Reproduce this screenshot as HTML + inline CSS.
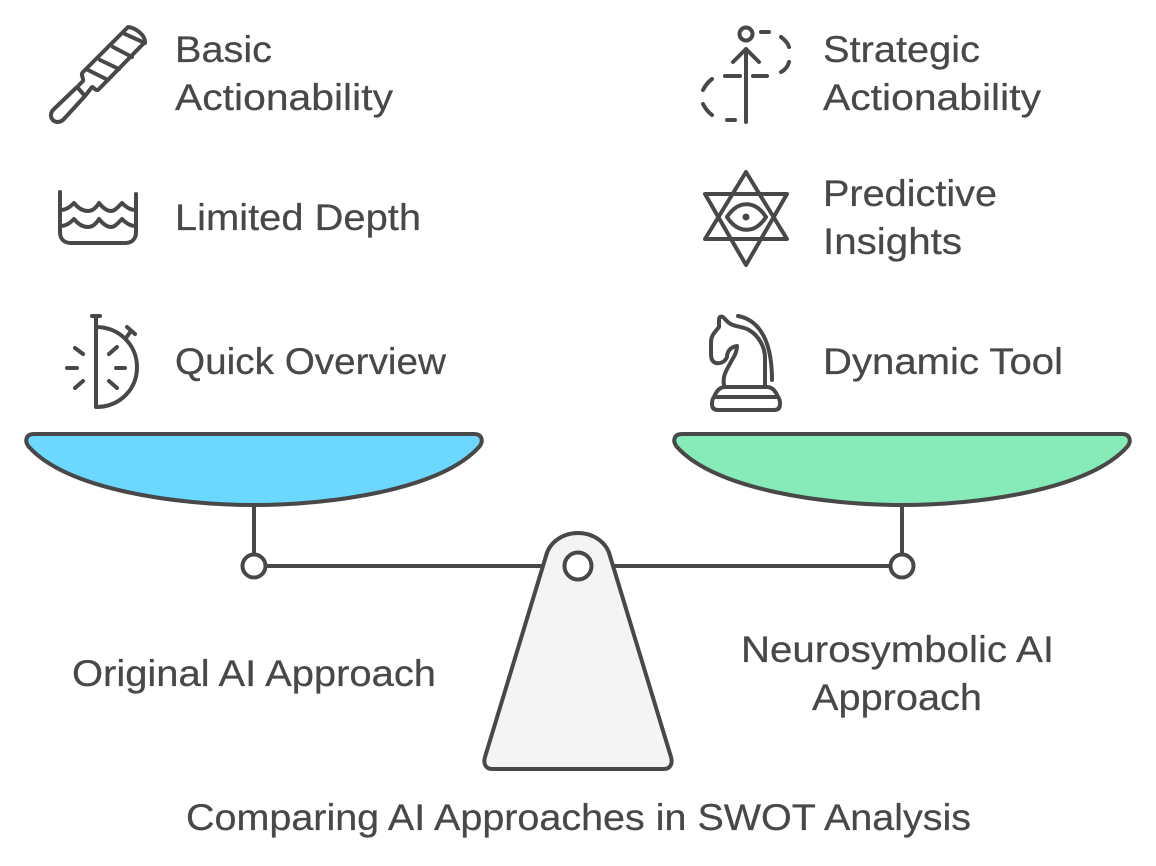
<!DOCTYPE html>
<html>
<head>
<meta charset="utf-8">
<style>
html,body{margin:0;padding:0;background:#fff;width:1156px;height:866px;overflow:hidden}
svg{display:block}
text{font-family:"Liberation Sans",sans-serif;font-size:37px;fill:#484848;stroke:#484848;stroke-width:.25px}
.s{fill:none;stroke:#484848;stroke-width:4;stroke-linecap:round;stroke-linejoin:round}
.b{stroke:#484848;stroke-width:4;stroke-linejoin:round}
</style>
</head>
<body>
<svg width="1156" height="866" viewBox="0 0 1156 866" xmlns="http://www.w3.org/2000/svg">
<!-- beam -->
<path class="s" d="M254 505V554M266 566H902M902 505V554"/>
<circle cx="254" cy="566" r="11.5" fill="#fff" class="b"/>
<circle cx="902" cy="566" r="11.5" fill="#fff" class="b"/>
<!-- bowls -->
<path class="b" fill="#6cd8ff" d="M34 434H474C482 434 484 441 479 447C440 490 330 505 254 505C178 505 68 490 29 447C24 441 26 434 34 434Z"/>
<path class="b" fill="#86ebb9" d="M682 434H1122C1130 434 1132 441 1127 447C1088 490 978 505 902 505C826 505 716 490 677 447C672 441 674 434 682 434Z"/>
<!-- fulcrum -->
<path class="b" fill="#f4f4f4" d="M546 556C549 543 562 533 578 533C594 533 607 543 610 556L671 757C673 764 670 769 664 769H492C486 769 483 764 485 757Z"/>
<circle cx="578" cy="566" r="13.5" fill="#fff" class="b"/>
<!-- file icon -->
<path class="s" d="M77 87L53 110C47 117 55 126 63 120L85 96ZM79 85L83 81C84 78 80 75 83 72L128 27C136 28 145 35 145 42L98 90C95 91 94 87 92 87L85 96"/>
<path class="s" d="M88 70L108 80M100 60L119 69M113 47L132 57M125 34L145 43"/>
<!-- water icon -->
<path class="s" d="M60 192V232C60 239 64 243 71 243H125C132 243 136 239 136 232V194"/>
<path class="s" d="M60 210C66 210 70 207 74 203C78 208 83 211 88 211C92 211 96 208 99 203C103 208 107 211 111 211C115 211 118 207 122 203C126 207 130 210 136 210"/>
<path class="s" d="M60 226C66 226 70 223 74 219C78 224 83 227 88 227C92 227 96 224 99 219C103 224 107 227 111 227C115 227 118 223 122 219C126 223 130 226 136 226"/>
<!-- stopwatch icon -->
<path class="s" d="M92 316H100M96 316V407C119 407 137 390 137 367C137 345 119 327 96 327"/>
<path class="s" d="M126 338L131 331M127 327L135 334M109 354L117 347M116 368H125M109 381L117 388M75 348L83 354M67 368H77M75 388L83 381"/>
<!-- strategic icon -->
<circle class="s" cx="746" cy="34" r="6.5"/>
<path class="s" d="M746 122V49M733 62L746 49L759 62M725 76H740M753 76H767M761 32H769M781 37C785 40 788 43 789 47M789 62C788 66 785 70 781 72M712 79C708 82 705 86 703 90M703 104C705 108 708 112 712 115M727 120H735"/>
<!-- star icon -->
<path class="s" d="M746 172L787 239H705ZM746 265L705 194H787Z"/>
<path class="s" d="M727 217C738 200 755 200 766 217C755 234 738 234 727 217Z"/>
<circle cx="746" cy="217" r="3.5" fill="#484848"/>
<!-- knight icon -->
<path class="s" d="M724 385C722 375 728 368 732 360C736 354 737 350 737 346C730 347 727 352 727 357C725 362 720 364 716 363C712 362 711 358 711 354V342C711 335 716 331 719 327V320C719 316 722 316 724 318C727 321 729 324 733 325C738 327 744 327 749 330C759 336 765 347 765 358V385"/>
<path class="s" d="M738 316C754 319 772 333 772 380"/>
<path class="s" d="M725 387H767C773 387 776 392 778 397C780 399 780 402 780 404C780 408 778 410 774 410H718C714 410 712 408 712 404C712 402 712 399 714 397C716 392 719 387 725 387ZM714 397H778"/>
<!-- labels -->
<text x="175" y="62" textLength="97" lengthAdjust="spacingAndGlyphs">Basic</text>
<text x="175" y="110" textLength="218" lengthAdjust="spacingAndGlyphs">Actionability</text>
<text x="175" y="230" textLength="246" lengthAdjust="spacingAndGlyphs">Limited Depth</text>
<text x="175" y="374" textLength="271" lengthAdjust="spacingAndGlyphs">Quick Overview</text>
<text x="823" y="62" textLength="157" lengthAdjust="spacingAndGlyphs">Strategic</text>
<text x="823" y="110" textLength="218" lengthAdjust="spacingAndGlyphs">Actionability</text>
<text x="823" y="206" textLength="174" lengthAdjust="spacingAndGlyphs">Predictive</text>
<text x="823" y="254" textLength="139" lengthAdjust="spacingAndGlyphs">Insights</text>
<text x="823" y="374" textLength="240" lengthAdjust="spacingAndGlyphs">Dynamic Tool</text>
<text x="72" y="686" textLength="364" lengthAdjust="spacingAndGlyphs">Original AI Approach</text>
<text x="741" y="662" textLength="313" lengthAdjust="spacingAndGlyphs">Neurosymbolic AI</text>
<text x="812" y="710" textLength="170" lengthAdjust="spacingAndGlyphs">Approach</text>
<text x="186" y="830" textLength="785" lengthAdjust="spacingAndGlyphs">Comparing AI Approaches in SWOT Analysis</text>
</svg>
</body>
</html>
